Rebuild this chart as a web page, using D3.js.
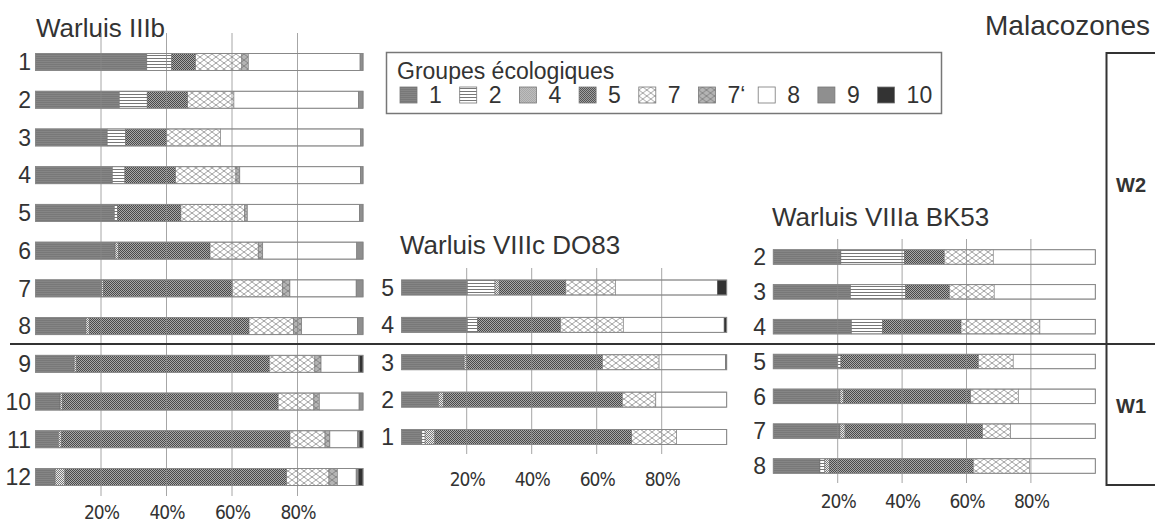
<!DOCTYPE html>
<html>
<head>
<meta charset="utf-8">
<script src="https://cdn.jsdelivr.net/npm/d3@7"></script>
<style>
body { margin: 0; background: #fff; }
text { font-family: "Liberation Sans", Arial, sans-serif; fill: #333; }
</style>
</head>
<body>
<svg width="1155" height="525"></svg>
<script>
// ecological groups, in stacking order
const groups = ["1", "2", "4", "5", "7", "7‘", "8", "9", "10"];
const ticks = [20, 40, 60, 80];

// Warluis IIIb
const rowsIIIb = [1, 2, 3, 4, 5, 6, 7, 8, 9, 10, 11, 12];
const valuesIIIb = [
  [34.0, 7.6, 0, 7.3, 14.1, 2.0, 34.1, 0.9, 0],
  [25.6, 8.5, 0, 12.4, 14.1, 0, 38.0, 1.4, 0],
  [21.9, 5.6, 0, 12.6, 16.4, 0, 42.8, 0.7, 0],
  [23.5, 3.8, 0, 15.5, 18.4, 1.2, 36.8, 0.8, 0],
  [24.1, 0.9, 0, 19.4, 19.4, 0.9, 34.2, 1.1, 0],
  [24.3, 0, 1.0, 28.0, 14.7, 1.4, 28.7, 1.9, 0],
  [20.2, 0, 0.5, 39.4, 15.4, 2.2, 20.2, 2.1, 0],
  [15.4, 0, 1.0, 48.8, 13.5, 2.6, 17.0, 1.7, 0],
  [11.8, 0, 0.8, 58.8, 13.9, 1.9, 11.4, 0.4, 1.0],
  [7.5, 0, 0.7, 65.9, 10.9, 1.7, 12.1, 1.2, 0],
  [7.0, 0, 1.0, 69.7, 10.7, 1.5, 8.5, 0.5, 1.1],
  [6.0, 0, 3.0, 67.7, 12.9, 2.6, 5.7, 0.7, 1.4]
];

// Warluis VIIIc DO83
const rowsDO83 = [5, 4, 3, 2, 1];
const valuesDO83 = [
  [20.2, 8.5, 1.3, 20.5, 15.3, 0, 31.3, 0, 2.9],
  [20.2, 3.1, 0, 25.6, 19.3, 0, 31.0, 0, 0.8],
  [19.2, 0, 0.8, 41.8, 17.4, 0, 20.5, 0, 0.3],
  [11.3, 0, 1.5, 55.1, 10.3, 0, 21.8, 0, 0],
  [6.2, 1.0, 3.0, 60.6, 13.8, 0, 15.4, 0, 0]
];

// Warluis VIIIa BK53
const rowsBK53 = [2, 3, 4, 5, 6, 7, 8];
const valuesBK53 = [
  [21.0, 19.7, 0, 12.4, 15.2, 0, 31.7, 0, 0],
  [24.0, 17.1, 0, 13.6, 13.9, 0, 31.4, 0, 0],
  [24.3, 9.6, 0, 24.4, 24.5, 0, 17.2, 0, 0],
  [20.0, 1.0, 0, 42.7, 10.8, 0, 25.5, 0, 0],
  [20.7, 0, 1.2, 39.4, 14.8, 0, 23.9, 0, 0],
  [20.7, 0, 1.6, 42.7, 8.7, 0, 26.3, 0, 0],
  [14.5, 1.5, 1.4, 44.7, 17.4, 0, 20.5, 0, 0]
];

const svg = d3.select("svg");
const defs = svg.append("defs");

function pattern(id, w, h, bg, draw) {
  const p = defs.append("pattern").attr("id", id)
    .attr("patternUnits", "userSpaceOnUse")
    .attr("width", w).attr("height", h);
  p.append("rect").attr("width", w).attr("height", h).attr("fill", bg);
  draw(p);
}
function checker(p, c) {
  p.append("rect").attr("width", 1).attr("height", 1).attr("fill", c);
  p.append("rect").attr("x", 1).attr("y", 1).attr("width", 1).attr("height", 1).attr("fill", c);
}
function diamond(p, c) {
  p.append("path").attr("d", "M0,3L4,0L8,3L4,6Z")
    .attr("fill", "none").attr("stroke", c).attr("stroke-width", 0.8);
}

pattern("p1", 4, 2, "#858585", p => p.append("rect").attr("width", 4).attr("height", 1).attr("fill", "#787878"));
pattern("p2", 4, 3, "#fff", p => p.append("rect").attr("y", 1).attr("width", 4).attr("height", 1).attr("fill", "#777"));
pattern("p4", 2, 2, "#ececec", p => checker(p, "#7a7a7a"));
pattern("p5", 2, 2, "#a8a8a8", p => checker(p, "#4a4a4a"));
pattern("p7", 8, 6, "#fff", p => diamond(p, "#8a8a8a"));
pattern("p7b", 8, 6, "#b4b4b4", p => diamond(p, "#777"));

const fills = ["url(#p1)", "url(#p2)", "url(#p4)", "url(#p5)", "url(#p7)", "url(#p7b)", "#fff", "#8f8f8f", "#333"];
const color = d3.scaleOrdinal().domain(groups).range(fills);

function drawPanel(cfg) {
  const x = d3.scaleLinear().domain([0, 100]).range(cfg.xRange);
  const y = d3.scalePoint().domain(cfg.rows).range(cfg.yRange);

  const table = cfg.rows.map((r, i) => {
    const o = { row: r };
    groups.forEach((g, j) => { o[g] = cfg.values[i][j]; });
    return o;
  });
  const series = d3.stack().keys(groups)(table);

  const g = svg.append("g");

  g.append("text")
    .attr("x", cfg.titleX).attr("y", cfg.titleY)
    .attr("font-size", 26)
    .text(cfg.title);

  g.selectAll(".rowlabel")
    .data(cfg.rows)
    .join("text")
    .attr("class", "rowlabel")
    .attr("x", cfg.labelX)
    .attr("y", d => y(d))
    .attr("dy", "0.36em")
    .attr("text-anchor", "end")
    .attr("font-size", 23)
    .text(d => d);

  g.selectAll(".series")
    .data(series)
    .join("g")
    .attr("class", "series")
    .attr("fill", d => color(d.key))
    .selectAll("rect")
    .data(d => d.filter(s => s[1] - s[0] > 0))
    .join("rect")
    .attr("x", d => x(d[0]))
    .attr("width", d => x(d[1]) - x(d[0]))
    .attr("y", d => y(d.data.row) - cfg.barH / 2)
    .attr("height", cfg.barH)
    .attr("stroke", "#6a6a6a")
    .attr("stroke-width", 0.5);

  g.selectAll(".outline")
    .data(cfg.rows)
    .join("rect")
    .attr("class", "outline")
    .attr("x", x(0))
    .attr("width", x(100) - x(0))
    .attr("y", d => y(d) - cfg.barH / 2)
    .attr("height", cfg.barH)
    .attr("fill", "none")
    .attr("stroke", "#888")
    .attr("stroke-width", 1);

  g.selectAll(".grid")
    .data(ticks)
    .join("line")
    .attr("class", "grid")
    .attr("x1", d => x(d)).attr("x2", d => x(d))
    .attr("y1", cfg.gridTop).attr("y2", cfg.gridBottom)
    .attr("stroke", "#888")
    .attr("stroke-opacity", 0.75)
    .attr("stroke-width", 1);

  const axis = g.append("g")
    .attr("transform", `translate(0,${cfg.tickY})`)
    .call(d3.axisBottom(x).tickValues(ticks).tickSize(0).tickFormat(d => d + "%"));
  axis.select(".domain").remove();
  axis.attr("font-family", null).attr("font-size", null);
  axis.selectAll("text")
    .attr("y", 0).attr("dy", null)
    .attr("font-size", 19)
    .attr("letter-spacing", -1)
    .style("font-family", '"Liberation Sans Narrow", "DejaVu Sans Condensed", sans-serif')
    .style("font-stretch", "condensed")
    .attr("fill", "#333");
}

drawPanel({
  title: "Warluis IIIb", titleX: 36, titleY: 37,
  rows: rowsIIIb, values: valuesIIIb,
  xRange: [35.5, 363], yRange: [62, 477], barH: 17,
  gridTop: 33, gridBottom: 496, tickY: 519, labelX: 31
});

drawPanel({
  title: "Warluis VIIIc DO83", titleX: 400, titleY: 254,
  rows: rowsDO83, values: valuesDO83,
  xRange: [401.7, 726.7], yRange: [287.5, 437], barH: 15,
  gridTop: 268, gridBottom: 454, tickY: 486, labelX: 394
});

drawPanel({
  title: "Warluis VIIIa BK53", titleX: 772, titleY: 226,
  rows: rowsBK53, values: valuesBK53,
  xRange: [773.3, 1095.3], yRange: [257, 466], barH: 14.5,
  gridTop: 239, gridBottom: 483, tickY: 508, labelX: 766
});

// zone divider and malacozone box
svg.append("line")
  .attr("x1", 10).attr("x2", 1155).attr("y1", 344).attr("y2", 344)
  .attr("stroke", "#333").attr("stroke-width", 2);
svg.append("path")
  .attr("d", "M1155,53H1106.5V485H1155")
  .attr("fill", "none").attr("stroke", "#333").attr("stroke-width", 2);
svg.append("text")
  .attr("x", 1150).attr("y", 35).attr("text-anchor", "end")
  .attr("font-size", 28).text("Malacozones");
svg.append("text")
  .attr("x", 1116).attr("y", 192).attr("font-size", 20).attr("font-weight", "bold").text("W2");
svg.append("text")
  .attr("x", 1116).attr("y", 413).attr("font-size", 20).attr("font-weight", "bold").text("W1");

// legend
const legend = svg.append("g");
legend.append("rect")
  .attr("x", 386.5).attr("y", 52.5).attr("width", 555).attr("height", 61)
  .attr("fill", "#fff").attr("stroke", "#777").attr("stroke-width", 1.5);
legend.append("text")
  .attr("x", 397).attr("y", 79).attr("font-size", 23).text("Groupes écologiques");
const item = legend.selectAll(".item")
  .data(groups)
  .join("g")
  .attr("class", "item")
  .attr("transform", (d, i) => `translate(${400 + i * 59.7},87)`);
item.append("rect")
  .attr("width", 17).attr("height", 16)
  .attr("fill", d => color(d))
  .attr("stroke", "#777").attr("stroke-width", 0.8);
item.append("text")
  .attr("x", 29).attr("y", 16)
  .attr("font-size", 23)
  .text(d => d);
</script>
</body>
</html>
